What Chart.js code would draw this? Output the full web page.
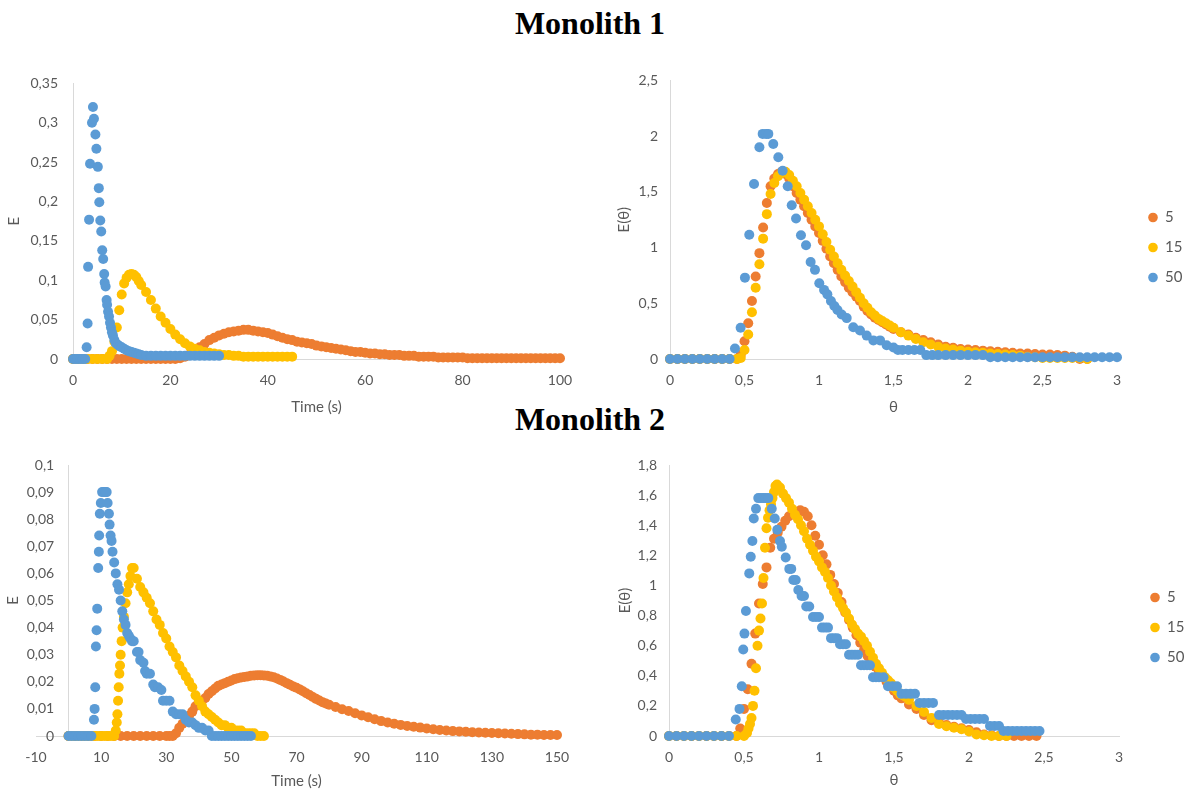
<!DOCTYPE html>
<html>
<head>
<meta charset="utf-8">
<script src="https://cdn.jsdelivr.net/npm/chart.js@4.4.1/dist/chart.umd.min.js"></script>
<style>
  html, body { margin: 0; padding: 0; background: #fff; width: 1187px; height: 791px; overflow: hidden; }
  .title { position: absolute; left: 0; width: 1180px; text-align: center; font-family: "Liberation Serif", "Times New Roman", serif; font-weight: bold; font-size: 32px; line-height: 32px; color: #000; }
  canvas { position: absolute; }
</style>
</head>
<body>
<div class="title" style="top:7px">Monolith 1</div>
<div class="title" style="top:403px">Monolith 2</div>
<canvas id="m1Time" width="600" height="360" style="left:0;top:60px"></canvas>
<canvas id="m1Theta" width="587" height="360" style="left:600px;top:60px"></canvas>
<canvas id="m2Time" width="600" height="350" style="left:0;top:440px"></canvas>
<canvas id="m2Theta" width="587" height="350" style="left:600px;top:440px"></canvas>
<script>
// -----------------------------
// DATA
// -----------------------------
const seriesLabels = ['5', '15', '50'];
const seriesColors = ['#ED7D31', '#FFC000', '#5B9BD5'];

// Monolith 1, E vs time
const m1Time5 = [0,1,2,3,4,5,6,7,8,9,10,11,12,13,14,15,16,17,18,19,20,21,22,23,24,25,26,27,28,29,30,31,32,33,34,35,36,37,38,39,40,41,42,43,44,45,46,47,48,49,50,51,52,53,54,55,56,57,58,59,60,61,62,63,64,65,66,67,68,69,70,71,72,73,74,75,76,77,78,79,80,81,82,83,84,85,86,87,88,89,90,91,92,93,94,95,96,97,98,99,100];
const m1E5 = [0,0,0,0,0,0,0,0,0,0,0,0,0,0,0,0,0,0,0,0,0,0,
  0.001,0.003,0.006,0.010,0.015,0.019,0.024,0.027,0.030,0.032,0.034,0.035,0.036,0.037,0.037,0.036,0.035,0.034,0.033,0.031,0.029,0.027,0.025,0.024,
  0.022,0.021,0.020,0.019,0.017,0.016,0.015,0.014,0.013,0.012,0.011,0.010,0.009,0.009,0.008,0.007,0.007,0.006,0.006,0.005,0.005,0.005,0.004,0.004,0.004,
  0.003,0.003,0.003,0.003,0.002,0.002,0.002,0.002,0.002,0.002,
  0.001,0.001,0.001,0.001,0.001,0.001,0.001,0.001,0.001,0.001,0.001,0.001,0.001,0.001,0.001,0.001,0.001,0.001,0.001,0.001];
const m1Time15 = [0,1,2,3,4,5,6,7,7.5,8,8.5,9,9.5,10,10.5,11,11.5,12,12.5,13,13.5,14,15,16,17,18,19,20,21,22,23,24,25,26,27,28,29,30,31,32,33,34,35,36,37,38,39,40,41,42,43,44,45];
const m1E15 = [0,0,0,0,0,0,0,0,
  0.004,0.010,0.022,0.040,0.062,0.082,0.096,0.103,0.107,0.108,0.107,0.104,0.099,0.094,
  0.085,0.075,0.064,0.054,0.046,0.038,0.031,0.025,0.020,0.016,0.013,0.011,0.009,0.008,0.007,0.006,0.005,0.005,0.004,0.004,
  0.003,0.003,0.003,0.003,0.003,0.003,0.003,0.003,0.003,0.003,0.003];
const m1Time50 = [0,0.5,1,1.5,2,2.5,
  2.8,3.0,3.1,3.3,3.5,3.9,4.1,4.3,4.6,4.8,5.1,5.3,5.4,5.6,5.8,6.0,6.2,6.4,6.5,6.7,
  6.9,7.0,7.2,7.4,7.6,7.8,8.0,8.2,8.5,8.8,9.2,9.6,10,10.5,11,11.5,12,12.5,13,13.5,14,
  15,16,17,18,19,20,21,22,23,24,25,26,27,28,29,30];
const m1E50 = [0,0,0,0,0,0,
  0.015,0.045,0.117,0.177,0.248,0.300,0.320,0.305,0.285,0.267,0.244,0.217,0.199,0.176,0.162,0.138,0.127,0.108,0.097,0.092,
  0.075,0.069,0.060,0.054,0.046,0.040,0.034,0.030,0.024,0.020,0.018,0.016,0.015,0.013,0.011,0.010,0.009,0.008,0.007,0.006,0.005,
  0.004,0.004,0.004,0.004,0.004,0.004,0.004,0.004,0.004,0.004,0.004,0.004,0.004,0.004,0.004,0.004];

// Monolith 1, E(theta) vs theta
const m1Theta = [0,0.05,0.1,0.15,0.2,0.25,0.3,0.35,0.4,0.45,
  0.475,0.5,0.525,0.55,0.575,0.6,0.625,0.65,0.675,0.7,0.725,0.75,0.775,0.8,0.825,0.85,0.875,0.9,0.925,0.95,
  0.975,1,1.025,1.05,1.075,1.1,1.125,1.15,1.175,1.2,1.225,1.25,1.275,1.3,1.325,1.35,1.375,1.4,1.425,1.45,1.475,1.5,
  1.55,1.6,1.65,1.7,1.75,1.8,1.85,1.9,1.95,2,2.05,2.1,2.15,2.2,2.25,2.3,2.35,2.4,2.45,2.5,2.55,2.6,2.65,2.7,2.75,2.8];
const m1Et5 = [0,0,0,0,0,0,0,0,0,0,
  0.04,0.16,0.32,0.52,0.74,0.95,1.18,1.4,1.55,1.62,
  1.66,1.68,1.66,1.62,1.55,1.49,1.43,1.37,1.31,1.25,
  1.19,1.13,1.06,0.99,0.92,0.86,0.8,0.74,0.69,0.64,
  0.6,0.56,0.52,0.47,0.43,0.4,0.37,0.35,0.33,0.31,
  0.29,0.27,
  0.24,0.22,0.19,0.17,0.15,0.13,0.11,0.1,0.09,0.085,
  0.08,0.075,0.07,0.065,0.06,0.055,0.05,0.05,0.045,0.04,
  0.04,0.035,0.03,0.02,0,0];
const m1Et15 = [0,0,0,0,0,0,0,0,0,0,
  0.01,0.08,0.22,0.42,0.64,0.85,1.08,1.3,1.48,1.58,
  1.64,1.67,1.68,1.65,1.6,1.55,1.49,1.43,1.37,1.31,
  1.25,1.19,1.12,1.05,0.98,0.92,0.86,0.8,0.75,0.7,
  0.65,0.6,0.55,0.5,0.46,0.42,0.39,0.36,0.34,0.32,
  0.3,0.28,
  0.24,0.21,0.18,0.15,0.13,0.11,0.095,0.085,0.075,0.065,
  0.06,0.055,0.05,0.045,0.04,0.035,0.03,0.02,0.015,0.01,
  0.01,0.01,0.01,0.01,0.01,0];
const m1Theta50 = [0,0.05,0.1,0.15,0.2,0.25,0.3,0.35,0.4,
  0.436,0.474,0.503,0.532,0.564,0.6,0.622,0.645,0.66,0.693,
  0.727,0.756,0.79,0.817,0.846,0.879,0.913,0.944,0.973,1.002,
  1.034,1.056,1.08,1.103,1.124,1.152,1.186,1.23,1.275,1.32,
  1.365,1.41,1.454,1.5,1.53,1.56,1.6,1.64,1.68,1.72,
  1.76,1.8,1.85,1.9,1.95,2.0,2.05,2.1,2.15,2.2,
  2.25,2.3,2.35,2.4,2.45,2.5,2.55,2.6,2.65,2.7,
  2.75,2.8,2.85,2.9,2.95,3.0];
const m1Et50 = [0,0,0,0,0,0,0,0,0,
  0.094,0.28,0.73,1.115,1.57,1.9,2.02,2.02,2.02,1.93,
  1.81,1.69,1.55,1.38,1.26,1.11,1.02,0.87,0.8,0.68,
  0.62,0.58,0.52,0.475,0.44,0.4,0.367,0.285,0.255,0.21,
  0.167,0.167,0.123,0.103,0.08,0.08,0.08,0.08,0.08,0.035,
  0.035,0.035,0.035,0.035,0.035,0.035,0.035,0.035,0.015,0.015,
  0.015,0.015,0.015,0.015,0.015,0.015,0.015,0.015,0.015,0.015,
  0.015,0.015,0.015,0.015,0.015,0.015];

// Monolith 2, E vs time
const m2Time5 = [0,2,4,6,8,10,12,14,16,18,20,22,24,26,28,30,
  31,32,33,34,35,36,37,38,39,40,41,42,43,44,45,46,47,48,49,50,51,52,53,54,55,56,57,58,59,60,
  61,62,63,64,65,66,67,68,69,70,71,72,73,74,75,76,77,78,79,80,
  82,84,86,88,90,92,94,96,98,100,102,104,106,108,110,112,114,116,118,120,
  122,124,126,128,130,132,134,136,138,140,142,144,146,148,150];
const m2E5 = [0,0,0,0,0,0,0,0,0,0,0,0,0,0,0,0,
  0,0,0.001,0.003,0.0045,0.006,0.0075,0.009,0.011,0.012,
  0.013,0.014,0.0155,0.0165,0.0175,0.0185,0.019,0.0195,0.02,0.0205,
  0.021,0.0213,0.0216,0.0218,0.022,0.0222,0.0223,0.0224,0.0224,0.0223,
  0.0222,0.022,0.0217,0.0212,0.0207,0.0201,0.0195,0.0189,0.0183,0.0178,
  0.0172,0.0165,0.0158,0.0151,0.0144,0.0137,0.0131,0.0125,0.012,0.0115,
  0.0107,0.0099,0.0092,0.0084,0.0076,0.0069,0.0062,0.0055,0.005,0.0045,
  0.0041,0.0037,0.0034,0.0031,0.0028,0.0025,0.0022,0.002,0.0018,0.0017,
  0.0016,0.0014,0.0013,0.0012,0.0011,0.001,0.0009,0.0008,0.0007,0.0006,
  0.0005,0.0005,0.0004,0.0004,0.0004];
const m2Time15 = [0,1,2,3,4,5,6,7,8,9,10,11,12,13,14,
  14.5,14.8,15,15.2,15.4,15.6,15.8,16,16.3,16.6,17,17.5,18,18.5,19,19.5,
  20,21,22,23,24,25,26,27,28,29,30,31,32,33,34,35,36,37,38,39,40,41,42,43,44,45,46,47,48,49,50,51,52,53,54,55,56,57,58,59,60];
const m2E15 = [0,0,0,0,0,0,0,0,0,0,0,0,0,0,0,
  0.002,0.005,0.008,0.013,0.018,0.023,0.026,0.030,0.035,0.040,0.044,0.049,0.053,0.056,0.059,0.062,
  0.062,0.058,0.055,0.053,0.051,0.049,0.046,0.043,0.041,0.038,
  0.036,0.033,0.031,0.029,0.026,0.024,0.022,0.020,0.018,0.015,
  0.013,0.011,0.009,0.008,0.007,0.006,0.005,0.004,0.004,0.003,
  0.003,0.002,0.002,0.002,0.001,0.001,0.001,0.001,0,0,0];
const m2Time50 = [0,1,2,3,4,5,6,7,
  7.8,8.0,8.2,8.4,8.6,8.8,9.1,9.3,9.4,9.6,
  9.9,10.3,10.8,11.3,11.7,12.0,12.4,12.6,12.9,13.2,
  13.5,14.0,14.5,15.0,15.5,16.0,16.5,17.0,17.5,18.0,
  18.5,19.0,19.5,20.0,21.0,21.5,22.0,23.0,23.5,24.0,
  25.0,26.0,26.5,27.5,28.5,29.0,30.0,31.0,32.0,33.0,
  34,35,36,37,38,39,40,41,42,43,
  44,45,46,47,48,49,50,51,52,53,54,55,56];
const m2E50 = [0,0,0,0,0,0,0,0,
  0.006,0.010,0.018,0.033,0.039,0.047,0.062,0.068,0.074,0.082,
  0.086,0.090,0.090,0.090,0.090,0.086,0.082,0.078,0.074,0.072,
  0.068,0.064,0.060,0.056,0.054,0.050,0.046,0.043,0.041,0.038,
  0.037,0.036,0.035,0.035,0.031,0.031,0.028,0.027,0.024,0.023,
  0.023,0.019,0.018,0.018,0.017,0.013,0.013,0.013,0.009,0.008,
  0.008,0.008,0.006,0.005,0.005,0.004,0.003,0.003,0.002,0.002,
  0,0,0,0,0,0,0,0,0,0,0,0,0];

// Monolith 2, E(theta) vs theta
const m2Theta5 = [0,0.05,0.1,0.15,0.2,0.25,0.3,0.35,0.4,0.45,
  0.475,0.5,0.525,0.55,0.575,0.6,0.625,0.65,0.675,0.7,0.725,0.75,0.775,0.8,0.825,0.85,0.875,0.9,0.925,0.95,
  0.975,1,1.025,1.05,1.075,1.1,1.125,1.15,1.175,1.2,1.225,1.25,1.275,1.3,1.325,1.35,1.375,1.4,1.425,1.45,
  1.475,1.5,1.525,1.55,
  1.6,1.65,1.7,1.75,1.8,1.85,1.9,1.95,2,2.05,2.1,2.15,2.2,2.25,2.3,2.35,2.4,2.45];
const m2Et5 = [0,0,0,0,0,0,0,0,0,0,
  0.05,0.18,0.31,0.48,0.68,0.88,1.01,1.12,1.25,1.31,
  1.35,1.39,1.43,1.46,1.48,1.49,1.5,1.49,1.46,1.4,
  1.33,1.27,1.2,1.14,1.07,1.01,0.95,0.89,0.82,0.77,
  0.72,0.67,0.62,0.57,0.53,0.49,0.46,0.43,0.39,0.36,
  0.33,0.3,0.27,0.25,
  0.21,0.18,0.14,0.105,0.09,0.073,0.062,0.052,0.04,0.025,
  0.01,0.005,0,0,0,0,0,0];
const m2Theta15 = [0,0.05,0.1,0.15,0.2,0.25,0.3,0.35,0.4,0.45,0.5,
  0.52,0.53,0.54,0.55,0.56,0.57,0.58,0.59,0.6,0.61,0.62,0.63,0.64,0.65,0.66,0.67,0.68,0.69,0.7,0.71,0.72,
  0.74,0.76,0.78,0.8,0.82,0.84,0.86,0.88,0.9,0.92,0.94,0.96,0.98,1,1.02,1.04,1.06,1.08,1.1,1.12,
  1.14,1.16,1.18,1.2,1.22,1.24,1.26,1.28,1.3,1.32,1.34,1.36,1.38,1.4,1.42,1.44,1.46,1.48,1.5,1.52,
  1.54,1.56,1.58,1.6,
  1.65,1.7,1.75,1.8,1.85,1.9,1.95,2,2.05,2.1,2.15,2.2,2.25];
const m2Et15 = [0,0,0,0,0,0,0,0,0,0,0,
  0.02,0.05,0.08,0.12,0.2,0.3,0.45,0.6,0.7,0.78,
  0.88,1.05,1.25,1.38,1.45,1.5,1.54,1.58,1.62,1.66,
  1.67,
  1.65,1.61,1.58,1.55,1.51,1.47,1.44,1.4,1.36,1.31,
  1.27,1.23,1.19,1.16,1.12,1.09,1.05,1.0,0.96,0.92,
  0.88,0.85,0.82,0.78,0.74,0.71,0.68,0.66,0.63,0.6,
  0.56,0.52,0.48,0.45,0.42,0.39,0.37,0.35,0.32,0.3,
  0.28,0.27,0.26,0.24,
  0.2,0.16,0.12,0.08,0.065,0.055,0.045,0.03,0.01,0.005,0,0,0];
const m2Theta50 = [0,0.05,0.1,0.15,0.2,0.25,0.3,0.35,0.4,
  0.445,0.47,0.485,0.495,0.503,0.513,0.535,0.545,0.556,0.565,
  0.58,0.595,0.612,0.629,0.645,0.662,0.685,0.705,0.722,0.74,
  0.752,0.778,0.802,0.815,0.829,0.845,0.862,0.884,0.9,0.915,
  0.935,0.96,0.98,1.0,1.02,1.04,1.06,1.08,1.1,1.12,
  1.14,1.16,1.18,1.2,1.22,1.24,1.26,1.28,1.3,1.32,
  1.34,1.36,1.38,1.4,1.43,1.46,1.49,1.52,1.55,1.58,
  1.61,1.64,1.67,1.7,1.73,1.76,1.8,1.83,1.86,1.89,
  1.92,1.95,1.98,2.01,2.04,2.07,2.1,2.14,2.17,2.2,
  2.23,2.26,2.29,2.32,2.35,2.38,2.41,2.44,2.47];
const m2Et50 = [0,0,0,0,0,0,0,0,0,
  0.11,0.18,0.33,0.575,0.68,0.83,1.08,1.19,1.295,1.445,
  1.51,1.58,1.58,1.58,1.58,1.58,1.51,1.445,1.37,1.295,
  1.257,1.186,1.11,1.11,1.036,1.036,0.97,0.93,0.93,0.86,
  0.86,0.79,0.79,0.79,0.72,0.72,0.72,0.65,0.65,0.65,
  0.61,0.61,0.61,0.54,0.54,0.54,0.54,0.47,0.47,0.47,
  0.47,0.39,0.39,0.39,0.39,0.33,0.33,0.33,0.28,0.28,
  0.28,0.28,0.22,0.22,0.22,0.22,0.14,0.14,0.14,0.14,
  0.14,0.14,0.113,0.113,0.113,0.113,0.113,0.066,0.066,0.066,
  0.033,0.033,0.033,0.033,0.033,0.033,0.033,0.033,0.033];

// -----------------------------
// HELPERS
// -----------------------------
Chart.defaults.font.family = 'Lato, "Noto Sans", sans-serif';
Chart.defaults.color = '#595959';

const AXIS_GREY = '#d9d9d9';
const fmt = v => String(+Number(v).toFixed(4)).replace('.', ',');
const pts = (xs, ys) => xs.map((x, i) => ({ x: x, y: ys[i] }));

// the legend sits right against the plot area; push it over to where Excel has it
const legendGap = {
    id: 'legendGap',
    afterLayout(chart, args, opts) {
        const lg = chart.legend;
        if (!lg || !opts.dx) return;
        lg.left += opts.dx;
        lg.right += opts.dx;
    }
};

function scatterChart(id, series, o) {
    const datasets = series.map((s, i) => ({
        label: seriesLabels[i],
        data: pts(s[0], s[1]),
        backgroundColor: seriesColors[i],
        borderColor: seriesColors[i],
        borderWidth: 0,
        pointRadius: 5,
        pointHoverRadius: 5,
        order: 3 - i,
        clip: false
    }));

    // y axis crossing at x = 0 draws its labels flush on the line, so pad them with spaces
    const yLabel = o.ySuffix ? v => fmt(v) + o.ySuffix : fmt;

    const scales = {
        x: {
            type: 'linear',
            min: o.xMin, max: o.xMax,
            grid: { display: false, drawTicks: false },
            border: { color: AXIS_GREY },
            ticks: { stepSize: o.xStep, padding: 12.6, autoSkip: false, maxRotation: 0, font: { size: 14 }, callback: fmt },
            title: { display: true, text: o.xTitle, font: { size: 15 }, padding: { top: 0, bottom: o.xTitlePad } },
            afterFit: s => {
                s.height = o.xHeight;
                if (o.rightSpace) s.paddingRight = o.rightSpace;
            }
        },
        y: {
            type: 'linear',
            position: o.yPos || 'left',
            min: 0, max: o.yMax,
            grid: { display: false, drawTicks: false },
            border: { color: AXIS_GREY },
            ticks: { stepSize: o.yStep, padding: o.yTickPad, autoSkip: false, font: { size: 14 }, callback: yLabel },
            title: { display: !o.yPos, text: o.yTitle, font: { size: 15 }, padding: { top: o.yTitlePad, bottom: o.yTitlePad } },
            afterFit: s => { s.width = o.yWidth; }
        }
    };

    if (o.yPos) {
        // title-only axis on the left edge, so "E" reads bottom-to-top like the other panels
        scales.yTitle = {
            type: 'linear',
            position: 'left',
            min: 0, max: o.yMax,
            grid: { display: false, drawTicks: false },
            border: { display: false },
            ticks: { display: false },
            title: { display: true, text: o.yTitle, font: { size: 15 }, padding: { top: o.yTitlePad, bottom: 0 } },
            afterFit: s => { s.width = o.yTitleWidth; }
        };
    }

    return new Chart(document.getElementById(id), {
        type: 'scatter',
        data: { datasets },
        plugins: [legendGap],
        options: {
            responsive: false,
            animation: false,
            devicePixelRatio: 1,
            events: [],
            layout: { padding: o.padding },
            plugins: {
                tooltip: { enabled: false },
                legendGap: { dx: o.legendDx || 0 },
                legend: o.legend ? {
                    display: true,
                    position: 'right',
                    align: 'center',
                    labels: {
                        usePointStyle: true,
                        pointStyle: 'circle',
                        boxWidth: 9,
                        boxHeight: 6.8,
                        padding: 15,
                        font: { size: 15 },
                        color: '#595959',
                        sort: (a, b) => a.datasetIndex - b.datasetIndex
                    }
                } : { display: false }
            },
            scales
        }
    });
}

// -----------------------------
// MONOLITH 1
// -----------------------------
scatterChart('m1Time', [[m1Time5, m1E5], [m1Time15, m1E15], [m1Time50, m1E50]], {
    padding: { left: 0, top: 15, right: 40, bottom: 0 },
    xMin: 0, xMax: 100, xStep: 20, xTitle: 'Time (s)', xHeight: 61, xTitlePad: 4,
    yMax: 0.35, yStep: 0.05, yTitle: 'E', yWidth: 73, yTickPad: 15, yTitlePad: 5
});

scatterChart('m1Theta', [[m1Theta, m1Et5], [m1Theta, m1Et15], [m1Theta50, m1Et50]], {
    padding: { left: 0, top: 15, right: 0, bottom: 0 },
    legend: true, rightSpace: 70, legendDx: 16.5,
    xMin: 0, xMax: 3, xStep: 0.5, xTitle: 'θ', xHeight: 61, xTitlePad: 4,
    yMax: 2.5, yStep: 0.5, yTitle: 'E(θ)', yWidth: 70, yTickPad: 12, yTitlePad: 15
});

// -----------------------------
// MONOLITH 2
// -----------------------------
scatterChart('m2Time', [[m2Time5, m2E5], [m2Time15, m2E15], [m2Time50, m2E50]], {
    padding: { left: 0, top: 25, right: 43, bottom: 0 },
    xMin: -10, xMax: 150, xStep: 20, xTitle: 'Time (s)', xHeight: 54, xTitlePad: 0,
    yPos: { x: 0 }, ySuffix: '    ',
    yMax: 0.1, yStep: 0.01, yTitle: 'E', yWidth: 0, yTickPad: 0,
    yTitleWidth: 36, yTitlePad: 4.5
});

scatterChart('m2Theta', [[m2Theta5, m2Et5], [m2Theta15, m2Et15], [m2Theta50, m2Et50]], {
    padding: { left: 0, top: 25, right: 0, bottom: 0 },
    legend: true, rightSpace: 68, legendDx: 16.5,
    xMin: 0, xMax: 3, xStep: 0.5, xTitle: 'θ', xHeight: 54, xTitlePad: 1,
    yMax: 1.8, yStep: 0.2, yTitle: 'E(θ)', yWidth: 69, yTickPad: 12, yTitlePad: 16
});
</script>
</body>
</html>
